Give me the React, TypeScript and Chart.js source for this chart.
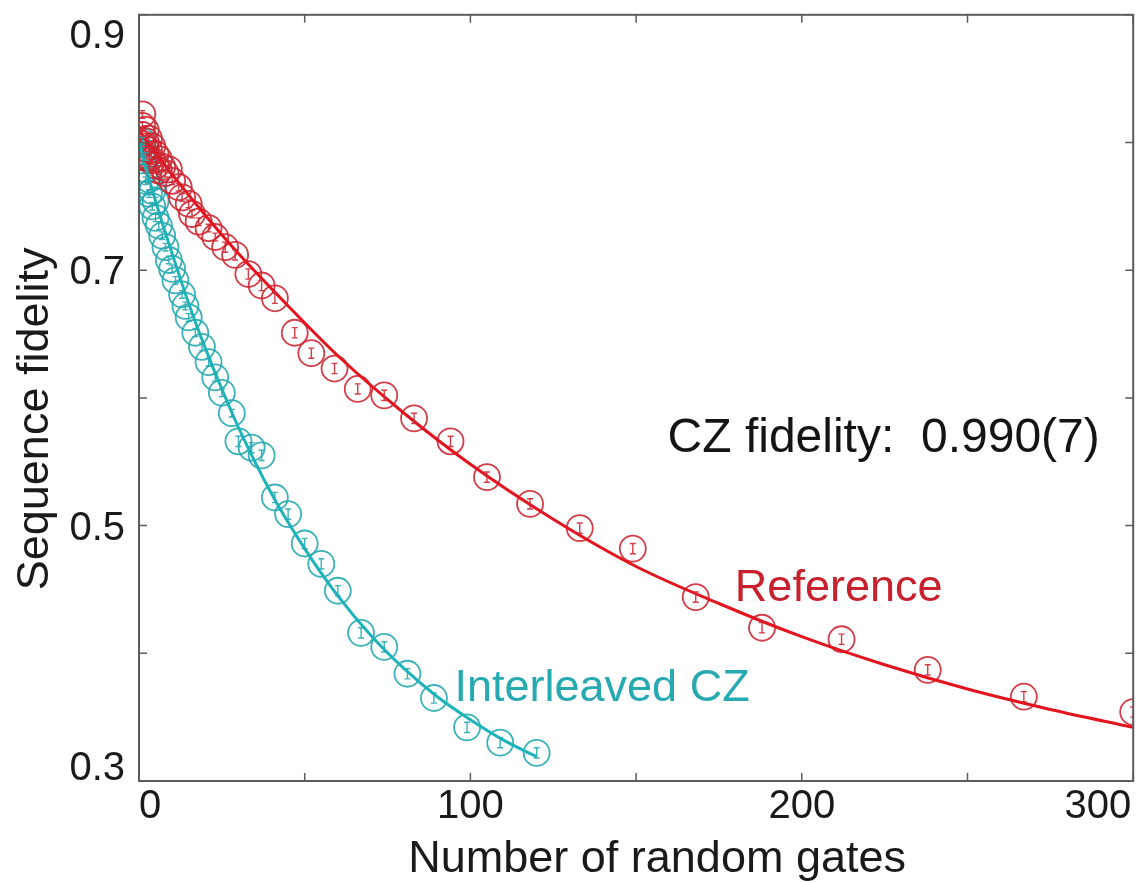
import React, { useEffect, useRef } from "react";
import { Chart, registerables } from "chart.js";

Chart.register(...registerables);

const FONT = "'Liberation Sans', Arial, Helvetica, sans-serif";

// Reference (red) sequence lengths and fidelities
const refGates = [1, 1, 1, 1, 2, 2, 2, 2, 3, 3, 3, 4, 4, 5, 5, 6, 6, 7, 8, 9, 10, 12, 13, 15, 16, 18, 21, 23, 26, 29, 33, 37, 41, 47, 52, 59, 66, 74, 83, 94, 105, 118, 133, 149, 168, 188, 212, 238, 267, 300];
const refFidelity = [0.822, 0.813, 0.806, 0.799, 0.810, 0.801, 0.795, 0.788, 0.803, 0.794, 0.787, 0.797, 0.786, 0.791, 0.782, 0.787, 0.778, 0.781, 0.776, 0.779, 0.770, 0.765, 0.757, 0.752, 0.744, 0.738, 0.733, 0.726, 0.718, 0.712, 0.697, 0.688, 0.678, 0.651, 0.635, 0.623, 0.607, 0.602, 0.584, 0.566, 0.538, 0.517, 0.498, 0.482, 0.444, 0.420, 0.411, 0.387, 0.366, 0.354];
const refError = [0.003, 0.003, 0.003, 0.003, 0.003, 0.003, 0.003, 0.003, 0.003, 0.003, 0.003, 0.003, 0.003, 0.003, 0.003, 0.003, 0.003, 0.003, 0.003, 0.003, 0.003, 0.003, 0.003, 0.003, 0.003, 0.003, 0.003, 0.003, 0.004, 0.004, 0.004, 0.004, 0.004, 0.004, 0.004, 0.004, 0.004, 0.004, 0.004, 0.004, 0.004, 0.004, 0.004, 0.004, 0.004, 0.004, 0.004, 0.004, 0.004, 0.004];

// Interleaved CZ (cyan) sequence lengths and fidelities
const czGates = [1, 1, 1, 2, 2, 2, 3, 3, 4, 4, 5, 5, 6, 7, 8, 9, 10, 11, 13, 14, 15, 17, 19, 21, 23, 25, 28, 30, 34, 37, 41, 45, 50, 55, 60, 67, 74, 81, 89, 99, 109, 120];
const czFidelity = [0.801, 0.793, 0.786, 0.789, 0.779, 0.770, 0.771, 0.760, 0.762, 0.750, 0.754, 0.741, 0.735, 0.727, 0.718, 0.708, 0.701, 0.692, 0.681, 0.672, 0.663, 0.651, 0.640, 0.628, 0.616, 0.604, 0.588, 0.566, 0.561, 0.555, 0.522, 0.509, 0.486, 0.470, 0.449, 0.416, 0.405, 0.384, 0.365, 0.342, 0.330, 0.322];
const czError = [0.003, 0.003, 0.003, 0.003, 0.003, 0.003, 0.003, 0.003, 0.003, 0.003, 0.003, 0.003, 0.003, 0.003, 0.003, 0.003, 0.003, 0.003, 0.003, 0.003, 0.003, 0.003, 0.003, 0.003, 0.003, 0.003, 0.003, 0.004, 0.004, 0.004, 0.004, 0.004, 0.004, 0.004, 0.004, 0.004, 0.004, 0.004, 0.004, 0.004, 0.004, 0.004];

// Fit curves
const refFitGates = [0, 10, 20, 30, 45, 60, 80, 100, 125, 150, 175, 200, 225, 250, 275, 300];
const refFitValues = [0.809, 0.775, 0.743, 0.713, 0.672, 0.633, 0.588, 0.548, 0.505, 0.468, 0.439, 0.413, 0.391, 0.372, 0.356, 0.342];
const czFitGates = [0, 5, 10, 15, 20, 25, 30, 40, 50, 60, 70, 80, 90, 100, 110, 120];
const czFitValues = [0.800, 0.754, 0.713, 0.674, 0.639, 0.607, 0.577, 0.525, 0.482, 0.445, 0.414, 0.388, 0.366, 0.348, 0.332, 0.319];

// Axis ticks
const xTicks = [0, 50, 100, 150, 200, 250, 300];
const xTickLabels = ["0", "", "100", "", "200", "", "300"];
const yTicks = [0.3, 0.4, 0.5, 0.6, 0.7, 0.8, 0.9];
const yTickLabels = ["0.3", "", "0.5", "", "0.7", "", "0.9"];

const xTitle = "Number of random gates";
const yTitle = "Sequence fidelity";
const fidelityText = "CZ fidelity:  0.990(7)";
const refLabel = "Reference";
const czLabel = "Interleaved CZ";

const RED_LINE = "#e4141e";
const RED_MARK = "rgba(205,40,52,0.9)";
const CYAN_LINE = "#1db3b8";
const CYAN_MARK = "rgba(38,170,176,0.9)";

const errorBarPlugin = {
  id: "errorBars",
  afterDatasetsDraw(chart: any) {
    const { ctx, scales } = chart;
    const x = scales.x;
    const y = scales.y;
    const a = chart.chartArea;
    ctx.save();
    ctx.beginPath();
    ctx.rect(a.left, a.top, a.right - a.left, a.bottom - a.top);
    ctx.clip();
    const groups = [
      { g: refGates, f: refFidelity, e: refError, c: RED_MARK },
      { g: czGates, f: czFidelity, e: czError, c: CYAN_MARK },
    ];
    groups.forEach((grp) => {
      ctx.strokeStyle = grp.c;
      ctx.lineWidth = 1.4;
      grp.g.forEach((gv, i) => {
        const px = x.getPixelForValue(gv);
        const top = y.getPixelForValue(grp.f[i] + grp.e[i]);
        const bot = y.getPixelForValue(grp.f[i] - grp.e[i]);
        ctx.beginPath();
        ctx.moveTo(px, top);
        ctx.lineTo(px, bot);
        ctx.moveTo(px - 3, top);
        ctx.lineTo(px + 3, top);
        ctx.moveTo(px - 3, bot);
        ctx.lineTo(px + 3, bot);
        ctx.stroke();
      });
    });
    ctx.restore();
  },
};

const axesPlugin = {
  id: "matlabAxes",
  afterDraw(chart: any) {
    const { ctx, scales } = chart;
    const x = scales.x;
    const y = scales.y;
    const a = chart.chartArea;
    ctx.save();
    // box
    ctx.strokeStyle = "#5c5c5c";
    ctx.lineWidth = 2;
    ctx.strokeRect(a.left, a.top, a.right - a.left, a.bottom - a.top);
    // inward ticks
    ctx.lineWidth = 1.5;
    const L = 8;
    xTicks.forEach((v) => {
      const px = x.getPixelForValue(v);
      ctx.beginPath();
      ctx.moveTo(px, a.bottom);
      ctx.lineTo(px, a.bottom - L);
      ctx.moveTo(px, a.top);
      ctx.lineTo(px, a.top + L);
      ctx.stroke();
    });
    yTicks.forEach((v) => {
      const py = y.getPixelForValue(v);
      ctx.beginPath();
      ctx.moveTo(a.left, py);
      ctx.lineTo(a.left + L, py);
      ctx.moveTo(a.right, py);
      ctx.lineTo(a.right - L, py);
      ctx.stroke();
    });
    // tick labels
    ctx.fillStyle = "#1a1a1a";
    ctx.font = `40px ${FONT}`;
    ctx.textBaseline = "alphabetic";
    xTicks.forEach((v, i) => {
      const lab = xTickLabels[i];
      if (!lab) return;
      const px = x.getPixelForValue(v);
      if (i === 0) {
        ctx.textAlign = "left";
        ctx.fillText(lab, px, a.bottom + 37);
      } else if (i === xTicks.length - 1) {
        ctx.textAlign = "right";
        ctx.fillText(lab, px - 2, a.bottom + 37);
      } else {
        ctx.textAlign = "center";
        ctx.fillText(lab, px, a.bottom + 37);
      }
    });
    ctx.textAlign = "right";
    yTicks.forEach((v, i) => {
      const lab = yTickLabels[i];
      if (!lab) return;
      const py = y.getPixelForValue(v);
      let base = py + 14;
      if (i === 0) base = py - 1;
      else if (i === yTicks.length - 1) base = py + 33;
      ctx.fillText(lab, a.left - 14, base);
    });
    // axis titles
    ctx.font = `45px ${FONT}`;
    ctx.textAlign = "center";
    ctx.fillText(xTitle, (a.left + a.right) / 2 + 21, a.bottom + 91);
    ctx.save();
    ctx.translate(48, (a.top + a.bottom) / 2 + 21);
    ctx.rotate(-Math.PI / 2);
    ctx.fillText(yTitle, 0, 0);
    ctx.restore();
    // annotations
    ctx.textAlign = "left";
    ctx.font = `48px ${FONT}`;
    ctx.fillStyle = "#141414";
    ctx.fillText(fidelityText, x.getPixelForValue(159.5), y.getPixelForValue(0.5575));
    ctx.font = `45px ${FONT}`;
    ctx.fillStyle = "#c8202c";
    ctx.fillText(refLabel, x.getPixelForValue(179.8), y.getPixelForValue(0.4406));
    ctx.fillStyle = "#27a9b1";
    ctx.fillText(czLabel, x.getPixelForValue(95.2), y.getPixelForValue(0.3625));
    ctx.restore();
  },
};

export default function App() {
  const canvasRef = useRef<HTMLCanvasElement>(null);
  useEffect(() => {
    const canvas = canvasRef.current;
    if (!canvas) return;
    const chart = new Chart(canvas, {
      type: "scatter",
      data: {
        datasets: [
          {
            type: "line",
            label: "Reference fit",
            data: refFitGates.map((g, i) => ({ x: g, y: refFitValues[i] })),
            borderColor: RED_LINE,
            borderWidth: 3,
            pointRadius: 0,
            fill: false,
            cubicInterpolationMode: "monotone",
            order: 0,
          } as any,
          {
            type: "line",
            label: "Interleaved fit",
            data: czFitGates.map((g, i) => ({ x: g, y: czFitValues[i] })),
            borderColor: CYAN_LINE,
            borderWidth: 3,
            pointRadius: 0,
            fill: false,
            cubicInterpolationMode: "monotone",
            order: 0,
          } as any,
          {
            label: "Reference",
            data: refGates.map((g, i) => ({ x: g, y: refFidelity[i] })),
            pointStyle: "circle",
            pointRadius: 13,
            pointBorderWidth: 1.8,
            pointBorderColor: RED_MARK,
            pointBackgroundColor: "rgba(0,0,0,0)",
            borderColor: RED_MARK,
            backgroundColor: "rgba(0,0,0,0)",
            showLine: false,
            order: 1,
          } as any,
          {
            label: "Interleaved CZ",
            data: czGates.map((g, i) => ({ x: g, y: czFidelity[i] })),
            pointStyle: "circle",
            pointRadius: 13,
            pointBorderWidth: 1.8,
            pointBorderColor: CYAN_MARK,
            pointBackgroundColor: "rgba(0,0,0,0)",
            borderColor: CYAN_MARK,
            backgroundColor: "rgba(0,0,0,0)",
            showLine: false,
            order: 1,
          } as any,
        ],
      },
      options: {
        responsive: false,
        devicePixelRatio: 1,
        animation: false,
        layout: { padding: { left: 139, right: 12, top: 13, bottom: 102 } },
        plugins: { legend: { display: false }, tooltip: { enabled: false } },
        scales: {
          x: { type: "linear", min: 0, max: 300, display: false },
          y: { type: "linear", min: 0.3, max: 0.9, display: false },
        },
      },
      plugins: [errorBarPlugin, axesPlugin],
    });
    return () => chart.destroy();
  }, []);
  return (
    <div style={{ position: "fixed", left: 0, top: 0, width: 1148, height: 883, background: "#ffffff" }}>
      <canvas ref={canvasRef} width={1148} height={883} style={{ display: "block", width: 1148, height: 883 }} />
    </div>
  );
}
